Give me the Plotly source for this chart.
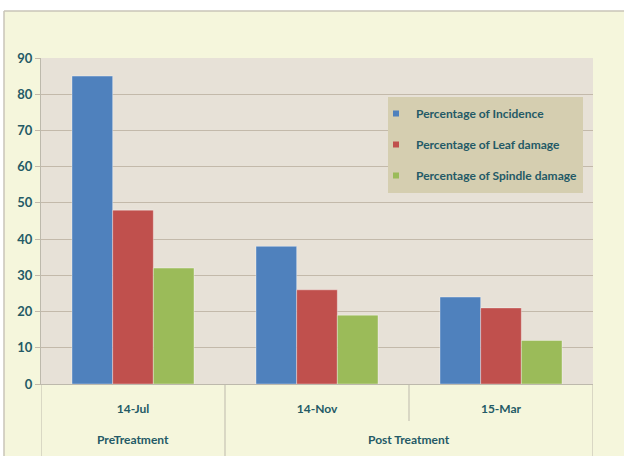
import plotly.graph_objects as go

# Sampling dates and treatment phases
dates = ["14-Jul", "14-Nov", "15-Mar"]
phases = ["PreTreatment", "Post Treatment"]
phase_spans = [(0, 0), (1, 2)]  # index range of dates in each phase

# Damage measurements (%)
incidence = [85, 38, 24]
leaf_damage = [48, 26, 21]
spindle_damage = [32, 19, 12]

series = [
    ("Percentage of Incidence", incidence, "#4f81bd"),
    ("Percentage of Leaf damage", leaf_damage, "#c0504d"),
    ("Percentage of Spindle damage", spindle_damage, "#9bbb59"),
]

TEXT = "#245a66"
GRID = "#c3b9aa"
FONT = "Lato"

fig = go.Figure()
for i, (name, vals, color) in enumerate(series):
    fig.add_trace(go.Bar(
        x=dates, y=vals, name=name, showlegend=False,
        marker=dict(color=color, line=dict(color="rgba(255,255,255,0.35)", width=1)),
    ))
    # small square key for the legend
    fig.add_trace(go.Scatter(
        x=[None], y=[None], mode="markers", name=name, legendgroup=f"g{i}",
        marker=dict(symbol="square", size=6, color=color),
    ))

W, H = 624, 456
ml, mr, mt, mb = 41, 31, 58, 72
ph = H - mt - mb


def py(pix):
    """Convert a pixel row to paper y."""
    return (H - mb - pix) / ph


def px(pix):
    return (pix - ml) / (W - ml - mr)


shapes = [
    # white band above the chart frame and at the left edge
    dict(type="rect", xref="paper", yref="paper", x0=px(0), x1=px(W), y0=py(11), y1=py(0),
         fillcolor="white", line_width=0, layer="below"),
    dict(type="rect", xref="paper", yref="paper", x0=px(0), x1=px(4), y0=py(H), y1=py(0),
         fillcolor="white", line_width=0, layer="below"),
    dict(type="line", xref="paper", yref="paper", x0=px(4), x1=px(W), y0=py(11), y1=py(11),
         line=dict(color="#c8c4b8", width=1.5)),
    dict(type="line", xref="paper", yref="paper", x0=px(4), x1=px(4), y0=py(11), y1=py(H),
         line=dict(color="#c8c4b8", width=1.5)),
    # legend panel
    dict(type="rect", xref="paper", yref="paper", x0=px(388), x1=px(583), y0=py(193), y1=py(97),
         fillcolor="#d5ceb0", line_width=0, layer="above"),
]

# dividers under the category axis
for k in range(len(dates) + 1):
    xpos = k - 0.5
    full = k == 0 or k == len(dates) or any(k == s for s, _ in phase_spans)
    shapes.append(dict(type="line", xref="x", yref="paper", x0=xpos, x1=xpos,
                       y0=0, y1=py(H) if full else py(421),
                       line=dict(color="#bdb9ac", width=1)))

annotations = []
for label, (s, e) in zip(phases, phase_spans):
    annotations.append(dict(x=(s + e) / 2, xref="x", y=py(440), yref="paper",
                            yanchor="middle", text=label, showarrow=False,
                            font=dict(family=FONT, size=12, color=TEXT, weight="bold")))

fig.update_layout(
    width=W, height=H,
    margin=dict(l=ml, r=mr, t=mt, b=mb),
    paper_bgcolor="#f5f6dc",
    plot_bgcolor="#e7e1d7",
    barmode="group", bargap=0.337, bargroupgap=0,
    font=dict(family=FONT, color=TEXT),
    shapes=shapes,
    annotations=annotations,
    legend=dict(
        x=px(382), xanchor="left", y=py(99), yanchor="top",
        bgcolor="rgba(0,0,0,0)", traceorder="grouped", tracegroupgap=12,
        font=dict(family=FONT, size=12, color=TEXT, weight="bold"),
        itemwidth=30, indentation=-6,
    ),
    xaxis=dict(
        type="category", range=[-0.5, 2.5],
        showgrid=False, showline=True, linecolor="#bdb9ac", linewidth=1,
        ticks="", ticklabelstandoff=14,
        tickfont=dict(family=FONT, size=12, color=TEXT, weight="bold"),
    ),
    yaxis=dict(
        range=[0, 90], dtick=10,
        showgrid=True, gridcolor=GRID, gridwidth=1.2,
        showline=True, linecolor="#bdb9ac", linewidth=1,
        ticks="outside", ticklen=5, tickcolor=GRID,
        tickfont=dict(family=FONT, size=13, color=TEXT, weight="bold"),
        zeroline=False,
    ),
)

fig.write_html("out.html")
